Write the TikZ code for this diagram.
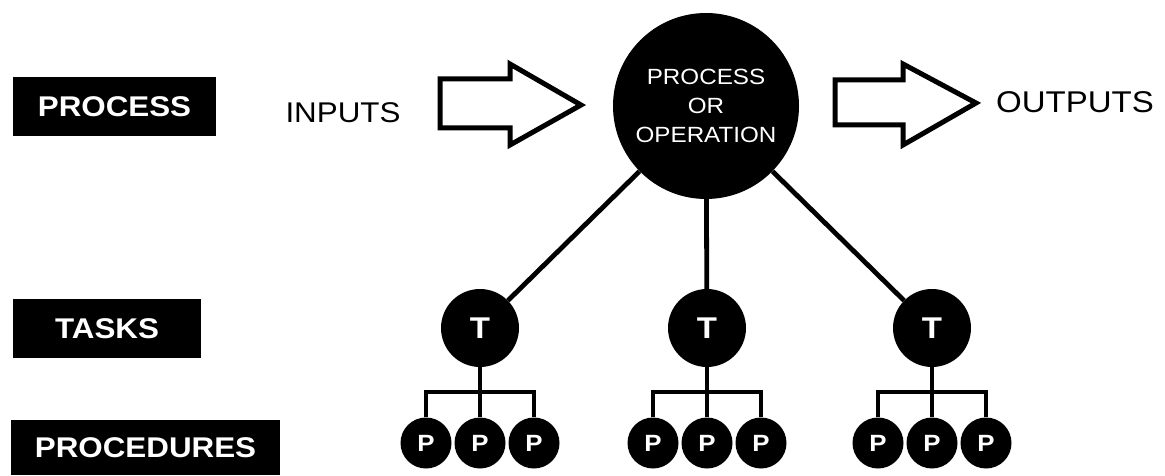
\documentclass[tikz,border=0pt]{standalone}
\usepackage{fontspec}
\setmainfont{Liberation Sans}[FakeStretch=1.1]
\begin{document}
\begin{tikzpicture}[x=1pt,y=-1pt,
  label box/.style={fill=black,text=white,font=\fontsize{28.5}{30}\selectfont\bfseries,inner sep=0pt,anchor=center},
  plain label/.style={font=\fontsize{28.5}{30}\selectfont,inner sep=0pt},
  big circ/.style={circle,fill=black,text=white,minimum size=186pt,inner sep=0pt,align=center,font=\fontsize{22}{29}\selectfont},
  task circ/.style={circle,fill=black,text=white,minimum size=78pt,inner sep=0pt,font=\fontsize{30}{32}\selectfont\bfseries},
  proc circ/.style={circle,fill=black,text=white,minimum size=51pt,inner sep=0pt,font=\fontsize{23.5}{25}\selectfont\bfseries},
  conn/.style={line width=4.8pt,black},
  fat arrow/.style={draw=black,line width=5pt,fill=white,miter limit=10}
]
\useasboundingbox (0,0) rectangle (1165,476);

% left labels
\node[label box,minimum width=203pt,minimum height=59pt] (lproc) at (114.5,106.5) {PROCESS};
\node[label box,minimum width=188pt,minimum height=59pt] (ltask) at (107,328.5) {TASKS};
\node[label box,minimum width=269pt,minimum height=55pt] (lprocd) at (145.5,447.5) {PROCEDURES};

% inputs / outputs
\node[plain label] (inp) at (343,113) {INPUTS};
\node[plain label,font=\fontsize{30}{31}\selectfont] (outp) at (1075,102.5) {OUTPUTS};

% big fat arrows
\draw[fat arrow] (440,79) -- (510,79) -- (510,64) -- (581,105) -- (510,145) -- (510,128) -- (440,128) -- cycle;
\draw[fat arrow] (835,80) -- (903,80) -- (903,64) -- (976,103) -- (903,145) -- (903,125) -- (835,125) -- cycle;

% main circle
\node[big circ] (main) at (706,106) {PROCESS\\OR\\OPERATION};

% tasks
\foreach \i/\x in {1/480,2/707,3/932}{
  \node[task circ] (t\i) at (\x,328) {T};
  \coordinate (b\i) at (\x,392);
  \node[proc circ] (p\i a) at (\x-54,443) {P};
  \node[proc circ] (p\i b) at (\x,443) {P};
  \node[proc circ] (p\i c) at (\x+54,443) {P};
}

% connectors
\foreach \i in {1,2,3}{
  \draw[conn] (main) -- (t\i);
  \draw[conn] (t\i) -- (b\i);
  \draw[conn] (p\i a.north) |- (b\i) -| (p\i c.north);
  \draw[conn] (b\i) -- (p\i b.north);
}
\end{tikzpicture}
\end{document}
